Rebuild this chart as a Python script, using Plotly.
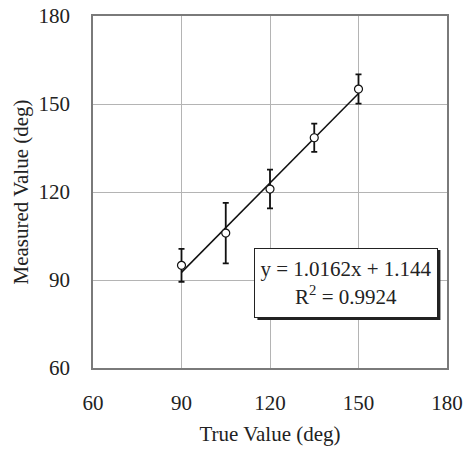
import plotly.graph_objects as go

true_vals = [90, 105, 120, 135, 150]
measured = [95.0, 106.0, 121.0, 138.5, 155.1]
err = [5.6, 10.3, 6.6, 4.8, 5.0]
slope = 1.0162
intercept = 1.144
r2 = 0.9924
x_ticks = [60, 90, 120, 150, 180]
y_ticks = [60, 90, 120, 150, 180]

FONT = "Liberation Serif, Times New Roman, serif"

fit_x = [min(true_vals), max(true_vals)]
fit_y = [slope * v + intercept for v in fit_x]

fig = go.Figure()
fig.add_trace(go.Scatter(x=fit_x, y=fit_y, mode="lines",
                         line=dict(color="#111111", width=1.5), showlegend=False,
                         cliponaxis=False))
fig.add_trace(go.Scatter(
    x=true_vals, y=measured, mode="markers",
    marker=dict(symbol="circle", size=8, color="white",
                line=dict(color="#111111", width=1.2)),
    error_y=dict(type="data", array=err, visible=True, color="#111111",
                 thickness=1.8, width=3),
    showlegend=False))

axis_common = dict(
    range=[60, 180], showgrid=True, gridcolor="#b4b4b4", gridwidth=1,
    zeroline=False, showline=True, linecolor="#7a7a7a", linewidth=1.5,
    mirror=True, ticks="", automargin=False, ticklabeloverflow="allow",
    tickfont=dict(family=FONT, size=21, color="#222222"),
)
fig.update_xaxes(**axis_common, tickvals=x_ticks, ticklabelstandoff=15,
                 title=dict(text="True Value (deg)", font=dict(family=FONT, size=21, color="#222222"),
                            standoff=12))
fig.update_yaxes(**axis_common, tickvals=y_ticks, ticklabelstandoff=17,
                 title=dict(text="Measured Value (deg)", font=dict(family=FONT, size=21, color="#222222"),
                            standoff=4))

# shadow behind the equation box
cx, cy = 145.9, 89.0
fig.add_shape(type="rect", xref="x", yref="y", xsizemode="pixel", ysizemode="pixel",
              xanchor=cx, yanchor=cy, x0=-89, x1=94, y0=-37, y1=33,
              fillcolor="#222222", line=dict(width=0), layer="above")
fig.add_annotation(
    x=cx, y=cy, xref="x", yref="y", showarrow=False,
    text=f"y = {slope}x + {intercept}<br>R<sup>2</sup> = {r2}",
    font=dict(family=FONT, size=21, color="#222222"),
    bgcolor="white", bordercolor="#222222", borderwidth=1,
    width=180, height=66, align="center", valign="middle",
)

fig.update_layout(
    width=465, height=453,
    margin=dict(l=93, r=18, t=16, b=85),
    paper_bgcolor="white", plot_bgcolor="white",
)
# remove the default page margin, scrollbars and the mode bar
fig.write_html(
    "out.html",
    config={"displayModeBar": False},
    post_script="document.documentElement.style.overflow='hidden';"
                "document.body.style.margin='0';document.body.style.overflow='hidden';",
)
